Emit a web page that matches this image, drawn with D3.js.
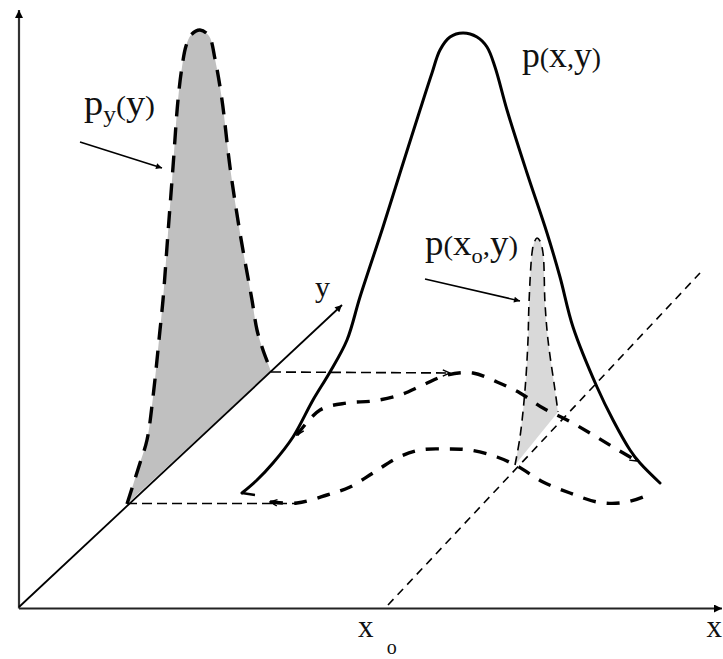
<!DOCTYPE html>
<html><head><meta charset="utf-8">
<script src="https://cdn.jsdelivr.net/npm/d3@7"></script>
<style>
html,body{margin:0;padding:0;background:#fff;}
svg{display:block;}
text{font-family:"Liberation Serif","Times New Roman",serif;fill:#111;}
</style></head><body>
<svg id="chart" width="723" height="659"></svg>
<script>
// Sketch of a joint density p(x,y), its marginal p_y(y) and the slice p(x_o,y).
// u runs along the x axis, v is the height on the page.
const xAxisLine = [[0, 0.005], [7.03, 0.005]];
const pAxisLine = [[0, 0.005], [0, 5.99]];
const yAxisLine = [[0, 0.02], [3.23, 3.04]];
const x0Line = [[3.69, 0.04], [6.81, 3.36]];

const marginalLeft = [[1.08,1.05],[1.21,1.46],[1.28,1.69],[1.34,2.12],[1.41,2.79],[1.44,3.09],[1.49,3.76],[1.54,4.42],[1.59,5.09],[1.63,5.42],[1.67,5.63],[1.72,5.74],[1.81,5.79]];
const marginalRight = [[1.90,5.73],[1.96,5.50],[2.03,5.09],[2.11,4.42],[2.21,3.76],[2.33,3.09],[2.38,2.79],[2.44,2.59],[2.52,2.38]];

const jointCurve = [[2.23,1.16],[2.38,1.29],[2.54,1.46],[2.74,1.72],[2.94,2.09],[3.11,2.37],[3.28,2.69],[3.41,3.12],[3.64,3.82],[3.81,4.36],[4.01,4.99],[4.13,5.36],[4.21,5.59],[4.31,5.72],[4.44,5.76],[4.58,5.72],[4.68,5.62],[4.76,5.42],[4.88,4.99],[5.08,4.36],[5.28,3.76],[5.41,3.32],[5.54,2.82],[5.78,2.22],[5.94,1.89],[6.11,1.59],[6.21,1.46],[6.41,1.26]];
const jointHook = [[2.23,1.16],[2.36,1.14]];

const upperContour = [[2.78,1.74],[3.01,1.99],[3.28,2.06],[3.54,2.08],[3.81,2.14],[4.04,2.24],[4.28,2.34],[4.54,2.36],[4.78,2.27],[5.01,2.16],[5.24,2.01],[5.48,1.89],[5.71,1.76],[5.94,1.62],[6.18,1.48]];
const lowerContour = [[2.51,1.07],[2.78,1.06],[3.08,1.14],[3.31,1.22],[3.54,1.36],[3.78,1.51],[4.01,1.59],[4.28,1.60],[4.51,1.59],[4.78,1.52],[4.98,1.43],[5.24,1.27],[5.51,1.16],[5.78,1.07],[6.01,1.06],[6.24,1.12],[6.31,1.16]];

const sliceLeft = [[4.96,1.44],[5.01,1.72],[5.06,2.19],[5.09,2.69],[5.10,3.06],[5.13,3.56],[5.15,3.66],[5.18,3.71]];
const sliceRight = [[5.21,3.68],[5.24,3.56],[5.26,3.06],[5.29,2.69],[5.36,2.19],[5.39,1.97]];

const projUpper = [[2.52,2.37],[4.31,2.36]];
const projLower = [[1.08,1.055],[2.76,1.055]];

const pointerPy = [[0.61,4.67],[1.43,4.41]];
const pointerSlice = [[4.06,3.30],[5.01,3.08]];

// labels: anchor, drawn width, and pieces [text, baseline shift, font size]
const labels = [
  {at:[5.03,5.425], width:79, parts:[["p",0,36],["(",0,28],["x",0,36],[",",0,28],["y",0,36],[")",0,28]]},
  {at:[0.65,4.94], width:71, parts:[["p",0,36],["y",7,24],["(",-7,28],["y",0,36],[")",0,28]]},
  {at:[4.06,3.54], width:93, parts:[["p",0,36],["(",0,28],["x",0,36],["o",8,22],[",",-8,28],["y",0,36],[")",0,28]]},
  {at:[2.96,3.12], width:null, parts:[["y",0,30]]},
  {at:[6.875,-0.28], width:null, parts:[["x",0,31]]},
  {at:[3.39,-0.28], width:null, parts:[["x",0,31]]},
  {at:[3.677,-0.45], width:null, parts:[["o",0,20]]}
];

const x = d3.scaleLinear().domain([0,7]).range([19,719]);
const y = d3.scaleLinear().domain([0,6]).range([609,9]);

const svg = d3.select("#chart");
const defs = svg.append("defs");

function triMarker(id, len, wid) {
  defs.append("marker").attr("id", id)
    .attr("markerUnits","userSpaceOnUse").attr("viewBox","0 0 10 10")
    .attr("refX",10).attr("refY",5).attr("markerWidth",len).attr("markerHeight",wid)
    .attr("orient","auto-start-reverse")
    .append("path").attr("d","M0,0L10,5L0,10Z").attr("fill","#000").attr("stroke","none");
}
triMarker("triSmall", 9, 6);
triMarker("triAxis", 9, 8);
triMarker("triDepth", 12, 7);

defs.append("marker").attr("id","chev")
  .attr("markerUnits","userSpaceOnUse").attr("viewBox","0 0 10 10")
  .attr("refX",9).attr("refY",5).attr("markerWidth",9).attr("markerHeight",9)
  .attr("orient","auto-start-reverse")
  .append("path").attr("d","M1,1.5L9,5L1,8.5").attr("fill","none")
  .attr("stroke","#000").attr("stroke-width",1.6).attr("stroke-dasharray","none");

const smooth = d3.line().x(d => x(d[0])).y(d => y(d[1])).curve(d3.curveCatmullRom.alpha(0.5));
const straight = d3.line().x(d => x(d[0])).y(d => y(d[1]));

// shaded areas
const marginalPts = marginalLeft.concat(marginalRight);
svg.append("path").attr("d", smooth(marginalPts) + "Z").attr("fill","#c0c0c0").attr("stroke","none");
const slicePts = sliceLeft.concat(sliceRight);
svg.append("path").attr("d", smooth(slicePts) + "Z").attr("fill","#d9d9d9").attr("stroke","none");

// x = x_o line in the base plane
svg.append("path").attr("d", straight(x0Line)).attr("fill","none")
  .attr("stroke","#000").attr("stroke-width",1.6).attr("stroke-dasharray","8,6");

// projections onto the y axis
svg.append("path").attr("d", straight(projUpper)).attr("fill","none")
  .attr("stroke","#000").attr("stroke-width",1.6).attr("stroke-dasharray","10,5")
  .attr("marker-end","url(#chev)");
svg.append("path").attr("d", straight(projLower)).attr("fill","none")
  .attr("stroke","#000").attr("stroke-width",1.6).attr("stroke-dasharray","10,5");

// base contours of the joint density
svg.append("path").attr("d", smooth(upperContour)).attr("fill","none")
  .attr("stroke","#000").attr("stroke-width",3.4).attr("stroke-dasharray","13,11")
  .attr("marker-start","url(#chev)").attr("marker-end","url(#chev)");
svg.append("path").attr("d", smooth(lowerContour)).attr("fill","none")
  .attr("stroke","#000").attr("stroke-width",3.4).attr("stroke-dasharray","13,11")
  .attr("marker-start","url(#chev)");

// slice outline
svg.append("path").attr("d", smooth(slicePts)).attr("fill","none")
  .attr("stroke","#000").attr("stroke-width",1.6).attr("stroke-dasharray","9,6");

// marginal outline
svg.append("path").attr("d", smooth(marginalPts)).attr("fill","none")
  .attr("stroke","#000").attr("stroke-width",3.4).attr("stroke-dasharray","17,11");

// joint density profile
svg.append("path").attr("d", smooth(jointCurve)).attr("fill","none")
  .attr("stroke","#000").attr("stroke-width",3).attr("stroke-linecap","round");
svg.append("path").attr("d", straight(jointHook)).attr("fill","none")
  .attr("stroke","#000").attr("stroke-width",2.4);

// axes
svg.append("path").attr("d", straight(xAxisLine)).attr("stroke","#222").attr("stroke-width",2)
  .attr("fill","none").attr("marker-end","url(#triAxis)");
svg.append("path").attr("d", straight(pAxisLine)).attr("stroke","#333").attr("stroke-width",2.2)
  .attr("fill","none").attr("marker-end","url(#triAxis)");
svg.append("path").attr("d", straight(yAxisLine)).attr("stroke","#000").attr("stroke-width",1.8)
  .attr("fill","none").attr("marker-end","url(#triDepth)");

// label pointers
[pointerPy, pointerSlice].forEach(p => {
  svg.append("path").attr("d", straight(p)).attr("stroke","#000").attr("stroke-width",1.6)
    .attr("fill","none").attr("marker-end","url(#triSmall)");
});

// labels
labels.forEach(l => {
  const t = svg.append("text").attr("x", x(l.at[0])).attr("y", y(l.at[1]));
  if (l.width) t.attr("textLength", l.width).attr("lengthAdjust", "spacingAndGlyphs");
  l.parts.forEach(([s, dy, fs]) => {
    t.append("tspan").attr("dy", dy).attr("font-size", fs).text(s);
  });
});
</script>
</body></html>
